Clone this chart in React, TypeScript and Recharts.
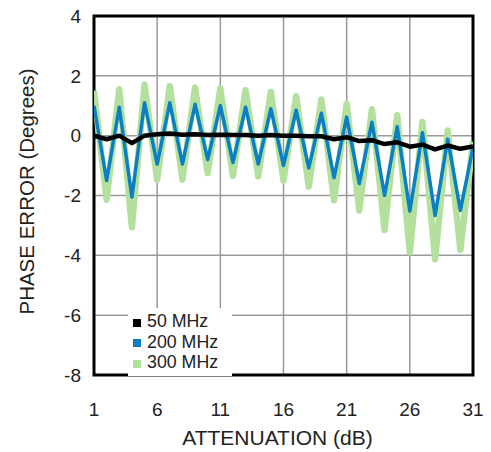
import { LineChart, Line, XAxis, YAxis, CartesianGrid, Legend, ReferenceArea, Label } from "recharts";

const attenuation = [1, 2, 3, 4, 5, 6, 7, 8, 9, 10, 11, 12, 13, 14, 15, 16, 17, 18, 19, 20, 21, 22, 23, 24, 25, 26, 27, 28, 29, 30, 31];

const mhz50 = [0.0, -0.12, 0.0, -0.25, 0.0, 0.05, 0.07, 0.03, 0.05, 0.02, 0.03, 0.02, 0.02, 0.0, 0.02, 0.0, 0.0, -0.02, -0.02, -0.12, -0.05, -0.18, -0.15, -0.28, -0.22, -0.37, -0.3, -0.46, -0.33, -0.44, -0.36];
const mhz200 = [1.0, -1.5, 0.95, -2.05, 1.1, -0.95, 1.1, -0.95, 1.05, -0.8, 1.0, -0.9, 0.95, -0.95, 0.9, -1.0, 0.85, -1.08, 0.75, -1.4, 0.62, -1.6, 0.45, -2.0, 0.3, -2.52, 0.1, -2.67, -0.12, -2.5, -0.4];
const mhz300 = [1.5, -2.14, 1.55, -3.06, 1.7, -1.47, 1.65, -1.47, 1.6, -1.25, 1.58, -1.34, 1.52, -1.36, 1.46, -1.5, 1.32, -1.7, 1.21, -2.16, 1.07, -2.5, 0.88, -3.15, 0.68, -3.9, 0.46, -4.13, 0.17, -3.82, -0.2];

const xTicks = [1, 6, 11, 16, 21, 26, 31];
const yTicks = [-8, -6, -4, -2, 0, 2, 4];

const series = [
  { key: "mhz50", name: "50 MHz", color: "#000000" },
  { key: "mhz200", name: "200 MHz", color: "#0a7fc2" },
  { key: "mhz300", name: "300 MHz", color: "#b4e09e" },
];

const data = attenuation.map((a, i) => ({
  atten: a,
  mhz50: mhz50[i],
  mhz200: mhz200[i],
  mhz300: mhz300[i],
}));

const font = "'Liberation Sans', Arial, sans-serif";

function LegendBox() {
  return (
    <div style={{ background: "#fff", padding: "3px 4px", fontFamily: font, fontSize: 17.8, lineHeight: "20.5px", color: "#222" }}>
      {series.map((s) => (
        <div key={s.key} style={{ display: "flex", alignItems: "center", whiteSpace: "nowrap", height: 20.5 }}>
          <span style={{ display: "inline-block", width: 8, height: 8, background: s.color, marginLeft: 1, marginRight: 6, marginTop: 3 }} />
          <span>{s.name}</span>
        </div>
      ))}
    </div>
  );
}

export default function App() {
  return (
    <div style={{ position: "absolute", left: 0, top: 0, background: "#fff" }}>
      <LineChart width={491} height={452} data={data} margin={{ top: 16, right: 18, left: 0, bottom: 0 }}>
        <CartesianGrid stroke="#9a9a9a" strokeWidth={1.5} />
        <XAxis
          dataKey="atten"
          type="number"
          domain={[1, 31]}
          ticks={xTicks}
          allowDataOverflow
          height={77}
          axisLine={false}
          tickLine={false}
          tickMargin={22}
          tick={{ fontSize: 19, fill: "#222", fontFamily: font }}
        >
          <Label
            content={({ viewBox }: any) => (
              <text x={viewBox.x + viewBox.width / 2 - 6} y={445} textAnchor="middle" fontSize={21} fill="#222" fontFamily={font}>
                ATTENUATION (dB)
              </text>
            )}
          />
        </XAxis>
        <YAxis
          type="number"
          domain={[-8, 4]}
          ticks={yTicks}
          allowDataOverflow
          width={94}
          axisLine={false}
          tickLine={false}
          tickMargin={7}
          tick={{ fontSize: 19, fill: "#222", fontFamily: font }}
        >
          <Label
            content={({ viewBox }: any) => {
              const cx = 26;
              const cy = viewBox.y + viewBox.height / 2 - 4;
              return (
                <text x={cx} y={cy} transform={`rotate(-90 ${cx} ${cy})`} textAnchor="middle" dominantBaseline="central" fontSize={20.5} fill="#222" fontFamily={font}>
                  PHASE ERROR (Degrees)
                </text>
              );
            }}
          />
        </YAxis>
        <Legend
          layout="horizontal"
          verticalAlign="middle"
          align="center"
          content={() => <LegendBox />}
          wrapperStyle={{ left: 128, top: 308, width: 104, height: 68 }}
        />
        <Line dataKey="mhz300" name="300 MHz" stroke="#b4e09e" strokeWidth={6.5} strokeLinejoin="round" dot={false} isAnimationActive={false} />
        <Line dataKey="mhz200" name="200 MHz" stroke="#0a7fc2" strokeWidth={3.5} strokeLinejoin="round" dot={false} isAnimationActive={false} />
        <Line dataKey="mhz50" name="50 MHz" stroke="#000000" strokeWidth={4.5} strokeLinejoin="round" dot={false} isAnimationActive={false} />
        <ReferenceArea x1={1} x2={31} y1={-8} y2={4} fill="none" stroke="#000" strokeWidth={3} ifOverflow="visible" />
      </LineChart>
    </div>
  );
}
